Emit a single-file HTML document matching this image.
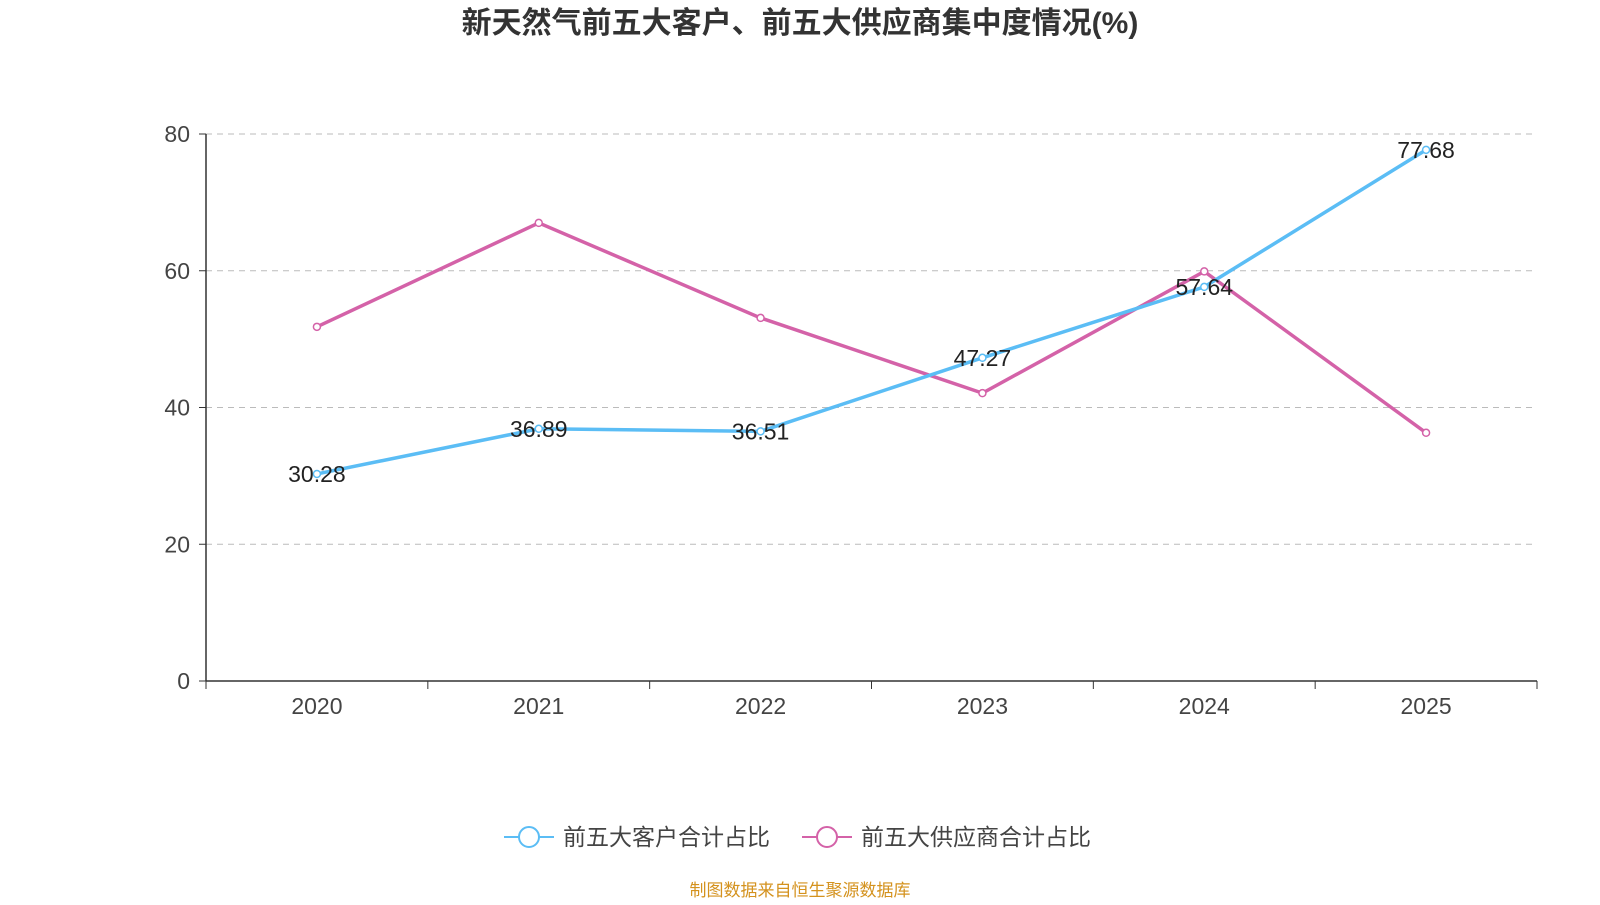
<!DOCTYPE html>
<html><head><meta charset="utf-8">
<style>
body{margin:0;width:1600px;height:900px;background:#fff;font-family:"Liberation Sans","Noto Sans CJK SC",sans-serif;}
svg text{font-family:"Liberation Sans","Noto Sans CJK SC",sans-serif;}
</style></head>
<body>
<svg id="chart" width="1600" height="900">
<text x="800" y="33" text-anchor="middle" font-size="30" font-weight="bold" fill="#333">新天然气前五大客户、前五大供应商集中度情况(%)</text>
<g id="grid"></g><g id="axes"></g><g id="series"></g>
<g>
<line x1="504" y1="837" x2="554" y2="837" stroke="#5bbdf5" stroke-width="2"/>
<circle cx="529" cy="837" r="10" fill="#fff" stroke="#5bbdf5" stroke-width="2"/>
<text x="563" y="845" font-size="23" fill="#444">前五大客户合计占比</text>
<line x1="802" y1="837" x2="852" y2="837" stroke="#d462a8" stroke-width="2"/>
<circle cx="827" cy="837" r="10" fill="#fff" stroke="#d462a8" stroke-width="2"/>
<text x="861" y="845" font-size="23" fill="#444">前五大供应商合计占比</text>
</g>
<text x="800" y="896" text-anchor="middle" font-size="17" fill="#d4921e">制图数据来自恒生聚源数据库</text>
</svg>
<script>
const categories=["2020","2021","2022","2023","2024","2025"];
const customers=[30.28,36.89,36.51,47.27,57.64,77.68];
const suppliers=[51.8,67.0,53.1,42.1,59.9,36.3];
const yTicks=[0,20,40,60,80];
const NS="http://www.w3.org/2000/svg";
const x0=206,x1=1537,yBase=681,yTop=134;
const bw=(x1-x0)/categories.length;
const xs=i=>x0+bw*(i+0.5);
const ys=v=>yBase-(v/80)*(yBase-yTop);
function mk(p,t,a){const e=document.createElementNS(NS,t);for(const k in a)e.setAttribute(k,a[k]);p.appendChild(e);return e;}
const grid=document.getElementById('grid'),axes=document.getElementById('axes'),ser=document.getElementById('series');
yTicks.forEach(v=>{
 if(v>0){const l=mk(grid,'line',{x1:x0,x2:x1,y1:ys(v),y2:ys(v),stroke:'#bbb','stroke-dasharray':'6,5'});
 
 }
 mk(axes,'line',{x1:x0-7,x2:x0,y1:ys(v),y2:ys(v),stroke:'#333'});
 const t=mk(axes,'text',{x:x0-16,y:ys(v)+8,'text-anchor':'end','font-size':23,fill:'#444'});t.textContent=v;
 
 
});
mk(axes,'line',{x1:x0,x2:x0,y1:yTop,y2:yBase,stroke:'#333','stroke-width':1.5});
mk(axes,'line',{x1:x0,x2:x1,y1:yBase,y2:yBase,stroke:'#333','stroke-width':1.5});
for(let i=0;i<=categories.length;i++)mk(axes,'line',{x1:x0+bw*i,x2:x0+bw*i,y1:yBase,y2:yBase+8,stroke:'#333'});
categories.forEach((c,i)=>{const t=mk(axes,'text',{x:xs(i),y:yBase+33,'text-anchor':'middle','font-size':23,fill:'#444'});t.textContent=c;
 
 });
function draw(vals,color,name,labels){
 const p=mk(ser,'polyline',{points:vals.map((v,i)=>xs(i)+','+ys(v)).join(' '),fill:'none',stroke:color,'stroke-width':3.5});
 
 
 vals.forEach((v,i)=>{const c=mk(ser,'circle',{cx:xs(i),cy:ys(v),r:3.5,fill:'#fff',stroke:color,'stroke-width':1.5});
  
  
  if(labels){const t=mk(ser,'text',{x:xs(i),y:ys(v)+8,'text-anchor':'middle','font-size':23,fill:'#222'});t.textContent=v.toFixed(2);
  
  }
 });
}
draw(suppliers,'#d462a8','suppliers',false);
draw(customers,'#5bbdf5','customers',true);
</script>
</body></html>
